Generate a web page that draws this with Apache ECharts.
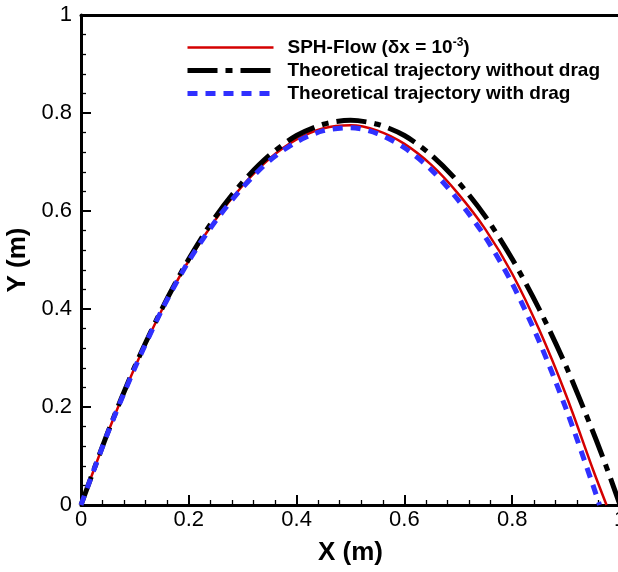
<!DOCTYPE html>
<html>
<head>
<meta charset="utf-8">
<script src="https://cdn.jsdelivr.net/npm/echarts@6/dist/echarts.min.js"></script>
<style>html,body{margin:0;padding:0;background:#fff}#c{width:618px;height:572px}</style>
</head>
<body>
<div id="c"></div>
<script>
var sphX = [0, 0.05, 0.1, 0.15, 0.2, 0.25, 0.3, 0.35, 0.4, 0.45, 0.5, 0.55, 0.6, 0.65, 0.7, 0.75, 0.8, 0.85, 0.9, 0.95, 0.975];
var sphY = [0, 0.148, 0.281, 0.398, 0.499, 0.583, 0.652, 0.707, 0.746, 0.769, 0.775, 0.764, 0.737, 0.694, 0.635, 0.563, 0.472, 0.358, 0.224, 0.072, 0];
var noDragX = [0, 0.05, 0.1, 0.15, 0.2, 0.25, 0.3, 0.35, 0.4, 0.45, 0.5, 0.55, 0.6, 0.65, 0.7, 0.75, 0.8, 0.85, 0.9, 0.95, 0.975, 1.0];
var noDragY = [0, 0.149, 0.283, 0.400, 0.502, 0.589, 0.659, 0.714, 0.754, 0.777, 0.785, 0.777, 0.754, 0.714, 0.659, 0.589, 0.502, 0.400, 0.283, 0.149, 0.077, 0];
var dragX = [0, 0.05, 0.1, 0.15, 0.2, 0.25, 0.3, 0.35, 0.4, 0.45, 0.5, 0.55, 0.6, 0.65, 0.7, 0.75, 0.8, 0.85, 0.9, 0.95, 0.962];
var dragY = [0, 0.148, 0.280, 0.398, 0.498, 0.580, 0.648, 0.703, 0.741, 0.764, 0.770, 0.758, 0.729, 0.684, 0.622, 0.547, 0.452, 0.334, 0.196, 0.040, 0];
var tickValues = [0, 0.2, 0.4, 0.6, 0.8, 1];
var seriesNames = ['SPH-Flow (δx = 10{sup|-3})', 'Theoretical trajectory without drag', 'Theoretical trajectory with drag'];

function pairs(xs, ys) { return xs.map(function (x, i) { return [x, ys[i]]; }); }

var FONT = '"Liberation Sans", Arial, Helvetica, sans-serif';
var chart = echarts.init(document.getElementById('c'), null, {renderer: 'canvas'});

var redStyle = {color: '#d40000', width: 2.5, type: 'solid'};
var blackStyle = {color: '#000', width: 5, type: [30, 8, 7, 8]};
var blueStyle = {color: '#3030ff', width: 5, type: [10, 8]};

function baseAxis(pos) {
  return {
    type: 'value', position: pos, min: 0, max: 1, interval: 0.2,
    axisLine: {show: true, onZero: false, lineStyle: {color: '#000', width: 3}},
    axisTick: {show: true, inside: true, length: 10, lineStyle: {color: '#000', width: 2}},
    minorTick: {show: true, splitNumber: 5, length: 5, lineStyle: {color: '#000', width: 1.3}},
    splitLine: {show: false},
    axisLabel: {show: true, color: '#000', fontFamily: FONT, fontSize: 22,
      formatter: function (v) { return tickValues.indexOf(Math.round(v * 10) / 10) >= 0 ? String(Math.round(v * 10) / 10) : ''; }}
  };
}

var xMain = baseAxis('bottom');
xMain.axisLabel.margin = 4;
xMain.name = 'X (m)';
xMain.nameLocation = 'middle';
xMain.nameGap = 35;
xMain.nameTextStyle = {color: '#000', fontFamily: FONT, fontSize: 26, fontWeight: 'bold'};

var yMain = baseAxis('left');
yMain.axisLabel.margin = 9;
yMain.name = 'Y (m)';
yMain.nameLocation = 'middle';
yMain.nameGap = 46;
yMain.nameTextStyle = {color: '#000', fontFamily: FONT, fontSize: 26, fontWeight: 'bold'};

var xTop = {
  type: 'value', position: 'top', min: 0, max: 1, interval: 0.2,
  axisLine: {show: true, onZero: false, lineStyle: {color: '#000', width: 3}},
  axisTick: {show: false}, axisLabel: {show: false}, splitLine: {show: false}
};

chart.setOption({
  animation: false,
  backgroundColor: '#fff',
  grid: {left: 81, top: 15, width: 539, height: 490, containLabel: false, outerBoundsMode: 'none'},
  xAxis: [xMain, xTop],
  yAxis: [yMain],
  legend: {
    orient: 'vertical', left: 180, top: 32, itemWidth: 86, itemHeight: 14, itemGap: 4,
    data: [
      {name: seriesNames[0], lineStyle: redStyle},
      {name: seriesNames[1], lineStyle: blackStyle},
      {name: seriesNames[2], lineStyle: blueStyle}
    ],
    itemStyle: {opacity: 0},
    textStyle: {color: '#000', fontFamily: FONT, fontSize: 19, fontWeight: 'bold', padding: [0, 0, 0, 9],
      rich: {sup: {fontFamily: FONT, fontSize: 12, fontWeight: 'bold', verticalAlign: 'top', padding: [0, 0, 9, 0]}}}
  },
  series: [
    {name: seriesNames[0], type: 'line', xAxisIndex: 0, data: pairs(sphX, sphY), smooth: 0.3, showSymbol: false, symbol: 'none',
      lineStyle: redStyle, itemStyle: {color: '#d40000'}, z: 2},
    {name: seriesNames[1], type: 'line', xAxisIndex: 0, data: pairs(noDragX, noDragY), smooth: 0.3, showSymbol: false, symbol: 'none',
      lineStyle: blackStyle, itemStyle: {color: '#000'}, z: 3},
    {name: seriesNames[2], type: 'line', xAxisIndex: 0, data: pairs(dragX, dragY), smooth: 0.3, showSymbol: false, symbol: 'none',
      lineStyle: blueStyle, itemStyle: {color: '#3030ff'}, z: 4}
  ]
});
</script>
</body>
</html>
